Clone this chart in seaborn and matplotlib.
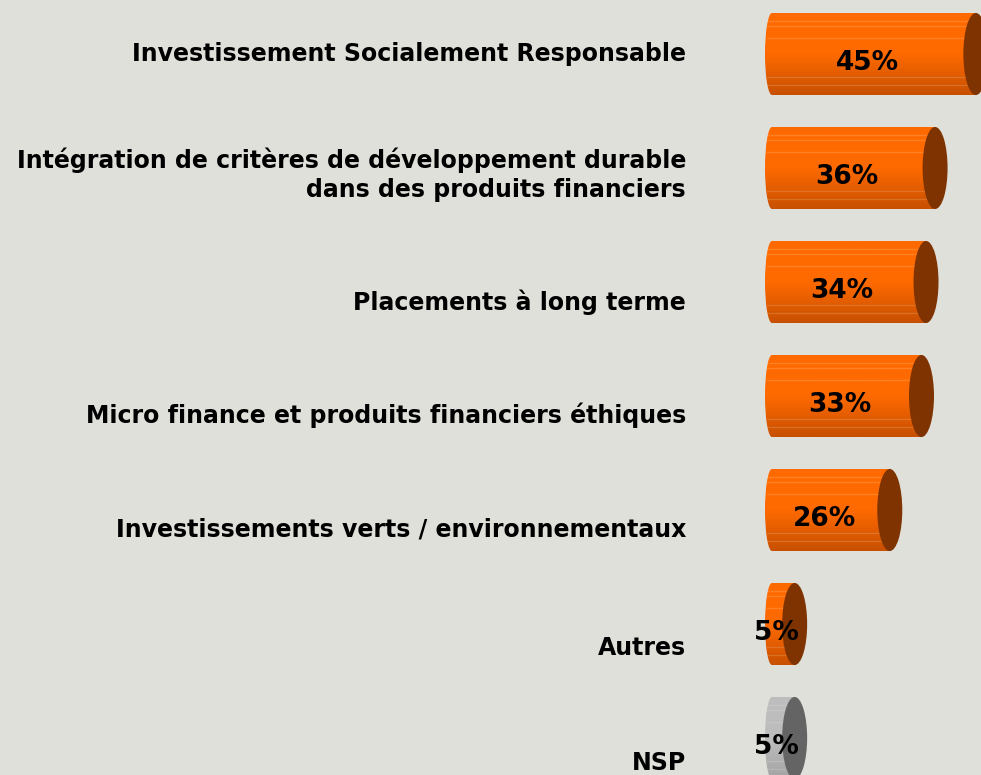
import numpy as np
import pandas as pd
import matplotlib
matplotlib.use("Agg")
import matplotlib.pyplot as plt
from matplotlib.patches import Ellipse
import seaborn as sns

categories = [
    "Investissement Socialement Responsable",
    "Intégration de critères de développement durable\ndans des produits financiers",
    "Placements à long terme",
    "Micro finance et produits financiers éthiques",
    "Investissements verts / environnementaux",
    "Autres",
    "NSP",
]
values = [45, 36, 34, 33, 26, 5, 5]
value_labels = ["45%", "36%", "34%", "33%", "26%", "5%", "5%"]

# couleurs : corps (haut, bas) et couvercle
body_top = ["#ff6a00"] * 6 + ["#bdbdbd"]
body_bot = ["#c85000"] * 6 + ["#a4a4a4"]
cap_col = ["#7f3300"] * 6 + ["#646464"]

bg = "#e0e0da"
sns.set_style("white")
plt.rcParams["font.family"] = ["DejaVu Sans"]

df = pd.DataFrame({"cat": categories, "val": values})

fig = plt.figure(figsize=(9.81, 7.75), dpi=100, facecolor=bg)
ax = fig.add_axes([0, 0, 1, 1])
ax.set_facecolor(bg)

sns.barplot(data=df, x="val", y="cat", hue="cat", palette=body_top,
            width=0.72, legend=False, ax=ax, saturation=1, linewidth=0)

x0 = 772   # pixel du zéro
px = 4.53  # pixels par point de %
ax.set_xlim(-x0 / px, (981 - x0) / px)
ax.set_ylim((775 - 54) / 114, -54 / 114)
ax.axis("off")

cap_w = 25 / px
left_w = 14 / px
grad = np.linspace(0, 1, 64).reshape(-1, 1)

for i, (p, v) in enumerate(zip(ax.patches, values)):
    y0, h = p.get_y(), p.get_height()
    cmap = matplotlib.colors.LinearSegmentedColormap.from_list(
        "c%d" % i, [body_top[i], body_top[i], body_bot[i]])
    left = Ellipse((0, i), left_w, h, facecolor="none", edgecolor="none")
    ax.add_patch(left)
    for clip in (p, left):
        im = ax.imshow(grad, cmap=cmap, aspect="auto", zorder=2,
                       extent=(-left_w, v, y0 + h, y0), interpolation="bilinear")
        im.set_clip_path(clip)
    # stries claires
    for f in (0.1, 0.16, 0.3, 0.78, 0.88):
        ax.plot([-left_w / 3, v], [y0 + f * h] * 2, color="white",
                alpha=0.15, lw=1, zorder=3)
    ax.add_patch(Ellipse((v, i), cap_w, h, facecolor=cap_col[i],
                         edgecolor="none", zorder=4))
    ax.text(max(v / 2 - 1.5, -0.5), i + 0.08, value_labels[i], ha="center",
            va="center", fontsize=19, fontweight="bold", color="black",
            zorder=5)

label_dy = [0, 0.06, 0.18, 0.17, 0.17, 0.21, 0.22]
for i, c in enumerate(categories):
    ax.text(-86 / px, i + label_dy[i], c, ha="right", va="center",
            fontsize=17, fontweight="bold", color="black",
            linespacing=1.25)

fig.savefig("out.png", dpi=100, facecolor=bg)
